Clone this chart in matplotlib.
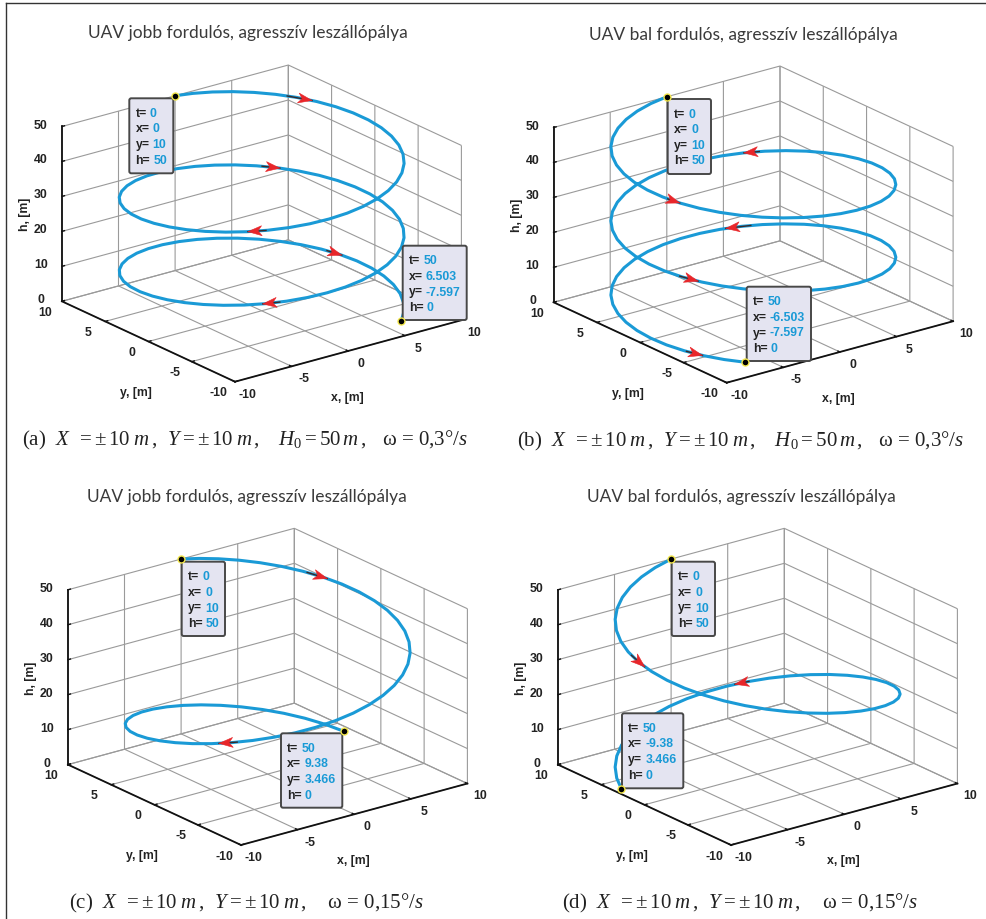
"""
UAV landing helix: four 3D panels (right / left turn, two turn rates).
"""
import matplotlib
matplotlib.use("Agg")
import numpy as np
import matplotlib.pyplot as plt
from matplotlib.patches import FancyBboxPatch, Polygon
from mpl_toolkits.mplot3d import proj3d

plt.rcParams["mathtext.fontset"] = "custom"
plt.rcParams["mathtext.rm"] = "Liberation Serif"
plt.rcParams["mathtext.it"] = "Liberation Serif:italic"
plt.rcParams["axes.unicode_minus"] = False

# omega = 0.3: one sample every half second
x_a = [0, 1.494, 2.955, 4.350, 5.646, 6.816, 7.833, 8.674, 9.320, 9.757, 9.975, 9.969, 9.738, 9.290, 8.632,
       7.781, 6.755, 5.577, 4.274, 2.875, 1.411, -0.084, -1.577, -3.035, -4.425, -5.716, -6.878, -7.885,
       -8.716, -9.351, -9.775, -9.981, -9.962, -9.719, -9.258, -8.589, -7.728, -6.692, -5.507, -4.197,
       -2.794, -1.328, 0.168, 1.660, 3.115, 4.500, 5.784, 6.939, 7.937, 8.757, 9.380,
       9.793, 9.985, 9.954, 9.699, 9.226, 8.546, 7.675, 6.630, 5.437, 4.121, 2.714, 1.245, -0.252, -1.743,
       -3.195, -4.575, -5.853, -7.000, -7.989, -8.797, -9.408, -9.809, -9.990, -9.946, -9.678, -9.193,
       -8.503, -7.620, -6.566, -5.366, -4.040, -2.632, -1.161, 0.336, 1.826, 3.275, 4.649, 5.921, 7.058,
       8.038, 8.836, 9.437, 9.826, 9.993, 9.936, 9.657, 9.158, 8.457, 7.565, 6.503]
y_a = [10, 9.888, 9.553, 9.004, 8.253, 7.317, 6.216, 4.976, 3.624, 2.190, 0.707, -0.791, -2.272, -3.702,
       -5.048, -6.282, -7.374, -8.301, -9.041, -9.578, -9.900, -10.000, -9.875, -9.528, -8.968, -8.206,
       -7.259, -6.150, -4.903, -3.545, -2.108, -0.623, 0.875, 2.354, 3.780, 5.121, 6.347, 7.431, 8.347,
       9.077, 9.602, 9.911, 10.000, 9.861, 9.502, 8.930, 8.157, 7.201, 6.084, 4.829, 3.466,
       2.024, 0.540, -0.957, -2.435, -3.858, -5.193, -6.411, -7.486, -8.393, -9.111, -9.625, -9.922, -9.997,
       -9.847, -9.476, -8.892, -8.108, -7.142, -6.014, -4.755, -3.388, -1.943, -0.456, 1.042, 2.517, 3.935,
       5.265, 6.476, 7.542, 8.439, 9.147, 9.647, 9.932, 9.994, 9.832, 9.449, 8.854, 8.059, 7.084, 5.949,
       4.682, 3.306, 1.857, 0.372, -1.126, -2.598, -4.016, -5.336, -6.540, -7.597]
h_a = [50, 49.5, 49, 48.5, 48, 47.5, 47, 46.5, 46, 45.5, 45, 44.5, 44, 43.5, 43, 42.5, 42, 41.5, 41, 40.5,
       40, 39.5, 39, 38.5, 38, 37.5, 37, 36.5, 36, 35.5, 35, 34.5, 34, 33.5, 33, 32.5, 32, 31.5, 31, 30.5,
       30, 29.5, 29, 28.5, 28, 27.5, 27, 26.5, 26, 25.5, 25, 24.5, 24, 23.5, 23, 22.5, 22, 21.5, 21, 20.5,
       20, 19.5, 19, 18.5, 18, 17.5, 17, 16.5, 16, 15.5, 15, 14.5, 14, 13.5, 13, 12.5, 12, 11.5, 11, 10.5,
       10, 9.5, 9, 8.5, 8, 7.5, 7, 6.5, 6, 5.5, 5, 4.5, 4, 3.5, 3, 2.5, 2, 1.5, 1, 0.5, 0]
x_b = [0, -1.494, -2.955, -4.350, -5.646, -6.816, -7.833, -8.674, -9.320, -9.757, -9.975, -9.969, -9.738,
       -9.290, -8.632, -7.781, -6.755, -5.577, -4.274, -2.875, -1.411, 0.084, 1.577, 3.035, 4.425, 5.716,
       6.878, 7.885, 8.716, 9.351, 9.775, 9.981, 9.962, 9.719, 9.258, 8.589, 7.728, 6.692, 5.507, 4.197,
       2.794, 1.328, -0.168, -1.660, -3.115, -4.500, -5.784, -6.939, -7.937, -8.757, -9.380,
       -9.793, -9.985, -9.954, -9.699, -9.226, -8.546, -7.675, -6.630, -5.437, -4.121, -2.714, -1.245, 0.252,
       1.743, 3.195, 4.575, 5.853, 7.000, 7.989, 8.797, 9.408, 9.809, 9.990, 9.946, 9.678, 9.193, 8.503,
       7.620, 6.566, 5.366, 4.040, 2.632, 1.161, -0.336, -1.826, -3.275, -4.649, -5.921, -7.058, -8.038,
       -8.836, -9.437, -9.826, -9.993, -9.936, -9.657, -9.158, -8.457, -7.565, -6.503]
y_b = y_a
h_b = h_a

# omega = 0.15: one sample per second
x_c = [0, 1.494, 2.955, 4.350, 5.646, 6.816, 7.833, 8.674, 9.320, 9.757, 9.975, 9.969, 9.738, 9.290, 8.632,
       7.781, 6.755, 5.577, 4.274, 2.875, 1.411, -0.084, -1.577, -3.035, -4.425, -5.716, -6.878, -7.885,
       -8.716, -9.351, -9.775, -9.981, -9.962, -9.719, -9.258, -8.589, -7.728, -6.692, -5.507, -4.197,
       -2.794, -1.328, 0.168, 1.660, 3.115, 4.500, 5.784, 6.939, 7.937, 8.757, 9.380]
y_c = [10, 9.888, 9.553, 9.004, 8.253, 7.317, 6.216, 4.976, 3.624, 2.190, 0.707, -0.791, -2.272, -3.702,
       -5.048, -6.282, -7.374, -8.301, -9.041, -9.578, -9.900, -10.000, -9.875, -9.528, -8.968, -8.206,
       -7.259, -6.150, -4.903, -3.545, -2.108, -0.623, 0.875, 2.354, 3.780, 5.121, 6.347, 7.431, 8.347,
       9.077, 9.602, 9.911, 10.000, 9.861, 9.502, 8.930, 8.157, 7.201, 6.084, 4.829, 3.466]
h_c = [50, 49, 48, 47, 46, 45, 44, 43, 42, 41, 40, 39, 38, 37, 36, 35, 34, 33, 32, 31, 30, 29, 28, 27, 26,
       25, 24, 23, 22, 21, 20, 19, 18, 17, 16, 15, 14, 13, 12, 11, 10, 9, 8, 7, 6, 5, 4, 3, 2, 1, 0]
x_d = [0, -1.494, -2.955, -4.350, -5.646, -6.816, -7.833, -8.674, -9.320, -9.757, -9.975, -9.969, -9.738,
       -9.290, -8.632, -7.781, -6.755, -5.577, -4.274, -2.875, -1.411, 0.084, 1.577, 3.035, 4.425, 5.716,
       6.878, 7.885, 8.716, 9.351, 9.775, 9.981, 9.962, 9.719, 9.258, 8.589, 7.728, 6.692, 5.507, 4.197,
       2.794, 1.328, -0.168, -1.660, -3.115, -4.500, -5.784, -6.939, -7.937, -8.757, -9.380]
y_d = y_c
h_d = h_c

# direction arrows: (tail x, y, h), (tip x, y, h)
arrows_a = [((7.40, 6.73, 47.2), (8.49, 5.28, 46.6)),
            ((6.10, 7.93, 26.87), (7.04, 7.10, 26.45)),
            ((-5.83, -8.13, 37.45), (-6.81, -7.32, 37.03)),
            ((9.04, 4.27, 4.35), (9.49, 3.15, 3.95)),
            ((-5.01, -8.65, 16.83), (-6.01, -7.99, 16.43))]
arrows_b = [((-9.63, -2.70, 43.85), (-9.30, -3.66, 43.5)),
            ((6.40, 7.68, 31.38), (5.53, 8.33, 31.0)),
            ((5.93, 8.05, 10.22), (4.42, 8.97, 9.64)),
            ((-9.30, -3.66, 22.57), (-8.68, -4.97, 22.09)),
            ((-9.09, -4.16, 1.45), (-8.51, -5.25, 1.03))]
arrows_c = [((8.04, 5.95, 43.77), (8.84, 4.67, 42.77)),
            ((-7.63, -6.46, 23.27), (-8.42, -5.39, 22.38))]
arrows_d = [((-9.85, 1.70, 40.67), (-10.0, -0.03, 39.5)),
            ((5.58, 8.30, 12.06), (4.73, 8.81, 11.4))]

tips_a = [[("t=", "0"), ("x=", "0"), ("y=", "10"), ("h=", "50")],
          [("t=", "50"), ("x=", "6.503"), ("y=", "-7.597"), ("h=", "0")]]
tips_b = [[("t=", "0"), ("x=", "0"), ("y=", "10"), ("h=", "50")],
          [("t=", "50"), ("x=", "-6.503"), ("y=", "-7.597"), ("h=", "0")]]
tips_c = [[("t=", "0"), ("x=", "0"), ("y=", "10"), ("h=", "50")],
          [("t=", "50"), ("x=", "9.38"), ("y=", "3.466"), ("h=", "0")]]
tips_d = [[("t=", "0"), ("x=", "0"), ("y=", "10"), ("h=", "50")],
          [("t=", "50"), ("x=", "-9.38"), ("y=", "3.466"), ("h=", "0")]]

xy_ticks = [-10, -5, 0, 5, 10]
h_ticks = [0, 10, 20, 30, 40, 50]

title_r = "UAV jobb fordulós, agresszív leszállópálya"
title_l = "UAV bal fordulós, agresszív leszállópálya"
cap_ab = (r"$X\;\;=\pm\,10\;m\,,\;\;Y=\pm\,10\;m\,,\;\;\;\;H_{0}=50\,m\,,\;\;$"
          r" ω = 0,3°/$s$")
cap_cd = r"$X\;\;=\pm\,10\;m\,,\;\;Y=\pm\,10\;m\,,\;\;$  ω = 0,15°/$s$"

W, H = 987, 919
BLUE = "#1a9ad6"
GRID = "#9a9a9a"
SANS = ["Liberation Sans", "DejaVu Sans"]

fig = plt.figure(figsize=(W / 100, H / 100), dpi=100, facecolor="white")
renderer = fig.canvas.get_renderer()

# overlay in image pixels for boxes, arrows, titles
ov = fig.add_axes([0, 0, 1, 1], zorder=5)
ov.set_xlim(0, W)
ov.set_ylim(H, 0)
ov.axis("off")

ov.plot([6, 6], [3, H], color="#333333", lw=1.0)
ov.plot([6, W], [3, 3], color="#333333", lw=1.0)


def to_px(ax, x, y, z):
    xs, ys, _ = proj3d.proj_transform(x, y, z, ax.get_proj())
    px, py = ax.transData.transform((xs, ys))
    return px, H - py


def place(ax, corner):
    # size and move the square 3D axes so the floor corners land on the picture
    cx, cy, S = 400.0, 400.0, 500.0
    for _ in range(3):
        ax.set_position([(cx - S / 2) / W, (H - cy - S / 2) / H, S / W, S / H])
        ax.apply_aspect()
        lx, _ = to_px(ax, -10, 10, 0)
        rx, _ = to_px(ax, 10, -10, 0)
        S *= 399.5 / (rx - lx)
        ax.set_position([(cx - S / 2) / W, (H - cy - S / 2) / H, S / W, S / H])
        ax.apply_aspect()
        bx, by = to_px(ax, -10, -10, 0)
        cx += corner[0] - bx
        cy += corner[1] - by
    ax.set_position([(cx - S / 2) / W, (H - cy - S / 2) / H, S / W, S / H])
    ax.apply_aspect()


def draw_tip(box, lines):
    x0, y0, x1, y1 = box
    r = 2.0
    ov.add_patch(FancyBboxPatch((x0 + r, y0 + r), x1 - x0 - 2 * r, y1 - y0 - 2 * r,
                                boxstyle=f"round,pad={r},rounding_size={r}",
                                fc="#e4e4f1", ec="#484848", lw=1.4, zorder=3))
    for i, (lab, val) in enumerate(lines):
        yy = y0 + 18.5 + i * 15.65
        t = ov.text(x0 + 6.3, yy, lab, fontsize=8.8, fontweight="bold", family=SANS,
                    color="#222222", va="baseline", zorder=4)
        w = t.get_window_extent(renderer).width
        ov.text(x0 + 6.3 + w + 3, yy, val, fontsize=8.8, fontweight="bold", family=SANS,
                color=BLUE, va="baseline", zorder=4)


def draw_arrow(ax, tail, tip):
    tx, ty = to_px(ax, *tail)
    px, py = to_px(ax, *tip)
    d = np.array([px - tx, py - ty])
    d = d / np.hypot(*d)
    n = np.array([-d[1], d[0]])
    p = np.array([px, py])
    ov.plot([tx, px], [ty, py], color="#3a2a2a", lw=1.0, zorder=2.5)
    head = [p, p - 14 * d + 5 * n, p - 10 * d, p - 14 * d - 5 * n]
    ov.add_patch(Polygon(head, closed=True, fc="#e8262a", ec="#e8262a", lw=0.4, zorder=2.6))


def panel(x, y, h, corner, arrows, tips, boxes, title, title_xy, label, cap, cap_x, cap_y):
    ax = fig.add_axes([0.1, 0.1, 0.5, 0.5], projection="3d", proj_type="ortho", zorder=1)
    ax.view_init(elev=20.8, azim=-127.4)
    ax.set_box_aspect((285, 285, 187))
    ax.set_xlim(-10, 10, view_margin=0)
    ax.set_ylim(-10, 10, view_margin=0)
    ax.set_zlim(0, 50, view_margin=0)
    ax.set_facecolor("none")
    ax.set_xticks(xy_ticks)
    ax.set_yticks(xy_ticks)
    ax.set_zticks(h_ticks)
    for axis in (ax.xaxis, ax.yaxis, ax.zaxis):
        axis.set_pane_color((1, 1, 1, 0))
        axis.pane.set_edgecolor(GRID)
        axis.line.set_color("#111111")
        axis.line.set_linewidth(1.3)
        axis._axinfo["grid"].update(color=GRID, linewidth=0.8)
        axis._axinfo["tick"].update(inward_factor=0.0, outward_factor=0.14)
        axis._axinfo["tick"]["linewidth"] = {True: 1.0, False: 0.5}
        for lab in axis.get_ticklabels():
            lab.set_fontweight("bold")
            lab.set_family(SANS)
            lab.set_va("center" if axis is ax.zaxis else "bottom")
    ax.tick_params(axis="x", labelsize=8.8, labelcolor="#222222", color="#111111", pad=4)
    ax.tick_params(axis="y", labelsize=8.8, labelcolor="#222222", color="#111111", pad=4)
    ax.tick_params(axis="z", labelsize=8.8, labelcolor="#222222", color="#111111", pad=0.5)
    ax.plot(x, y, h, color=BLUE, lw=2.2, solid_joinstyle="round", zorder=2)

    place(ax, corner)

    for tail, tip in arrows:
        draw_arrow(ax, tail, tip)
    for box, lines in zip(boxes, tips):
        draw_tip(box, lines)
    for i in (0, -1):
        px, py = to_px(ax, x[i], y[i], h[i])
        ov.plot([px], [py], "o", mfc="black", mec="#f2e64a", ms=5, mew=1.0, zorder=6)

    bx, by = corner
    ov.text(bx + 112, by + 16, "x, [m]", fontsize=8.8, fontweight="bold", family=SANS,
            color="#222222", ha="center", va="center")
    ov.text(bx - 99, by + 11.5, "y, [m]", fontsize=8.8, fontweight="bold", family=SANS,
            color="#222222", ha="center", va="center")
    ov.text(bx - 210, by - 167, "h, [m]", fontsize=8.8, fontweight="bold", family=SANS,
            color="#222222", ha="center", va="center", rotation=90)

    ov.text(title_xy[0], title_xy[1], title, fontsize=12.5, color="#3a3a3a",
            family=["Lato", "Liberation Sans"], ha="center", va="center")
    ov.text(cap_x, cap_y, label + "  " + cap, fontsize=15, color="#222222",
            family="Liberation Serif", ha="left", va="baseline")
    return ax


panel(x_a, y_a, h_a, (235, 381.7), arrows_a, tips_a,
      [(129.3, 98.3, 173.3, 173.3), (402.7, 245.7, 466.7, 320)],
      title_r, (248, 33), "(a)", cap_ab, 22.5, 445)
panel(x_b, y_b, h_b, (726.7, 382.7), arrows_b, tips_b,
      [(667.7, 99, 711, 174), (746.7, 286.7, 811, 361)],
      title_l, (743.5, 35), "(b)", cap_ab, 517, 446)
panel(x_c, y_c, h_c, (241, 845), arrows_c, tips_c,
      [(181.7, 561.7, 225, 636), (281, 733.3, 342.3, 807.7)],
      title_r, (247, 497), "(c)", cap_cd, 69, 908)
panel(x_d, y_d, h_d, (731, 845), arrows_d, tips_d,
      [(671.7, 561.7, 715, 636), (622, 713.3, 683.3, 788.3)],
      title_l, (741.5, 497), "(d)", cap_cd, 561.7, 908)

fig.savefig("out.png", dpi=100, facecolor="white")
plt.close(fig)
